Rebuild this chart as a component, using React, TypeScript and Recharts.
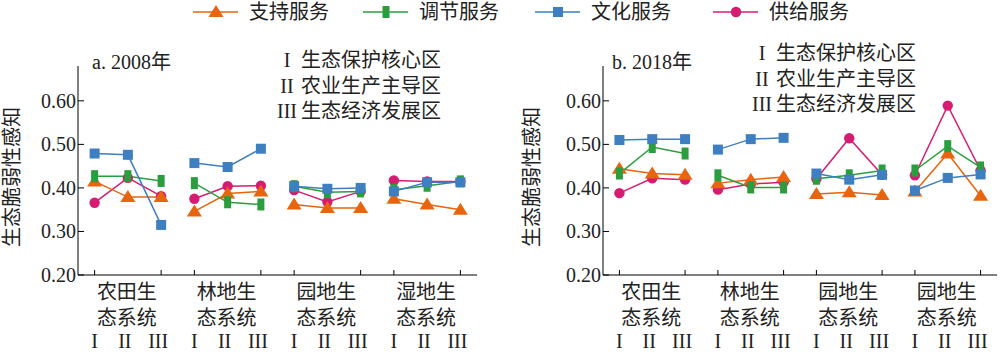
import React from "react"
import { LineChart, Line, XAxis, YAxis } from "recharts"

const FONT = "'Liberation Serif', 'Noto Sans CJK SC', serif"

// position 1..12: I, II, III of each ecosystem group
const positions = [1, 2, 3, 4, 5, 6, 7, 8, 9, 10, 11, 12]
const romans = ["I", "II", "III"]
const yTicks = [0.2, 0.3, 0.4, 0.5, 0.6]

const groups2008 = ["农田生态系统", "林地生态系统", "园地生态系统", "湿地生态系统"]
const groups2018 = ["农田生态系统", "林地生态系统", "园地生态系统", "园地生态系统"]

const regionNames = ["生态保护核心区", "农业生产主导区", "生态经济发展区"]

const support2008 = [0.415, 0.379, 0.379, 0.346, 0.387, 0.392, 0.362, 0.354, 0.354, 0.375, 0.362, 0.35]
const regulate2008 = [0.427, 0.427, 0.416, 0.411, 0.367, 0.362, 0.404, 0.39, 0.392, 0.396, 0.405, 0.415]
const culture2008 = [0.479, 0.476, 0.315, 0.457, 0.448, 0.49, 0.404, 0.398, 0.4, 0.392, 0.413, 0.413]
const supply2008 = [0.366, 0.423, 0.381, 0.375, 0.404, 0.405, 0.395, 0.368, 0.392, 0.417, 0.415, 0.415]

const support2018 = [0.444, 0.433, 0.43, 0.411, 0.419, 0.425, 0.386, 0.39, 0.384, 0.392, 0.479, 0.382]
const regulate2018 = [0.433, 0.494, 0.479, 0.429, 0.401, 0.401, 0.421, 0.429, 0.44, 0.44, 0.496, 0.447]
const culture2018 = [0.51, 0.512, 0.512, 0.488, 0.512, 0.515, 0.433, 0.419, 0.43, 0.394, 0.423, 0.431]
const supply2018 = [0.388, 0.422, 0.419, 0.396, 0.409, 0.413, 0.421, 0.514, 0.43, 0.429, 0.589, 0.44]

const series = [
  { key: "supply", name: "供给服务", color: "#D81B72", shape: "circle" },
  { key: "support", name: "支持服务", color: "#E8650F", shape: "triangle" },
  { key: "regulate", name: "调节服务", color: "#2A9E3E", shape: "rect" },
  { key: "culture", name: "文化服务", color: "#3D7FC1", shape: "square" },
]
const legendOrder = ["support", "regulate", "culture", "supply"]

// rows with a null row between groups so lines break
function buildRows(vals: Record<string, number[]>) {
  const rows: any[] = []
  positions.forEach((p, i) => {
    const row: any = { x: p }
    for (const k in vals) row[k] = vals[k][i]
    rows.push(row)
    if (i % 3 === 2 && i < positions.length - 1) {
      const gap: any = { x: p + 0.5 }
      for (const k in vals) gap[k] = null
      rows.push(gap)
    }
  })
  return rows
}

const data2008 = buildRows({ support: support2008, regulate: regulate2008, culture: culture2008, supply: supply2008 })
const data2018 = buildRows({ support: support2018, regulate: regulate2018, culture: culture2018, supply: supply2018 })

function Marker({ cx, cy, shape, color }: any) {
  if (cx == null || cy == null) return null
  if (shape === "triangle")
    return <polygon points={`${cx},${cy - 7} ${cx - 7.5},${cy + 5} ${cx + 7.5},${cy + 5}`} fill={color} />
  if (shape === "rect") return <rect x={cx - 3.5} y={cy - 6} width={7} height={12} fill={color} />
  if (shape === "square") return <rect x={cx - 5} y={cy - 5} width={10} height={10} fill={color} />
  return <circle cx={cx} cy={cy} r={5.2} fill={color} />
}

function XTick({ x, y, payload, groups }: any) {
  const idx = payload.value - 1
  const g = Math.floor(idx / 3)
  const k = idx % 3
  const label = groups[g]
  return (
    <g fontFamily={FONT} fontSize={20} fill="#222">
      {k !== 1 && <line x1={x} x2={x} y1={y} y2={y - 5} stroke="#000" />}
      <text x={x + (k === 0 ? 0 : -3)} y={y + 66} textAnchor="middle" dominantBaseline="central" fill="#222">
        {romans[k]}
      </text>
      {k === 1 && (
        <>
          <text x={x - 1} y={y + 17} textAnchor="middle" dominantBaseline="central" fill="#222">
            {label.slice(0, 3)}
          </text>
          <text x={x - 1} y={y + 43} textAnchor="middle" dominantBaseline="central" fill="#222">
            {label.slice(3)}
          </text>
        </>
      )}
    </g>
  )
}

function YTick({ x, y, payload }: any) {
  return (
    <g>
      <line x1={x} x2={x + 6} y1={y} y2={y} stroke="#000" />
      <text x={x - 2} y={y} textAnchor="end" dominantBaseline="central" fontFamily={FONT} fontSize={20} fill="#222">
        {Number(payload.value).toFixed(2)}
      </text>
    </g>
  )
}

function Panel({ data, groups, title, axisX, right, titleX, yLabelX, regionX, regionY }: any) {
  return (
    <div style={{ position: "relative", width: 500, height: 355 }}>
      <LineChart width={500} height={355} data={data} margin={{ top: 66, right, bottom: 0, left: 0 }}>
        <XAxis
          type="number"
          dataKey="x"
          domain={[0.5, 12.5]}
          ticks={positions}
          height={80}
          tickLine={false}
          tickSize={0}
          tickMargin={0}
          axisLine={{ stroke: "#000" }}
          tick={<XTick groups={groups} />}
          interval={0}
        />
        <YAxis
          type="number"
          domain={[0.2, 0.68]}
          ticks={yTicks}
          width={axisX}
          tickLine={false}
          tickSize={0}
          tickMargin={0}
          axisLine={{ stroke: "#000" }}
          tick={<YTick />}
          interval={0}
          allowDataOverflow
        />
        {series.map((s) => (
          <Line
            key={s.key}
            dataKey={s.key}
            stroke={s.color}
            strokeWidth={1.5}
            type="linear"
            isAnimationActive={false}
            dot={(p: any) => <Marker key={`${s.key}-${p.index}`} cx={p.cx} cy={p.cy} shape={s.shape} color={s.color} />}
            activeDot={false}
          />
        ))}
      </LineChart>
      <svg width={500} height={355} style={{ position: "absolute", left: 0, top: 0, pointerEvents: "none" }}>
        <g fontFamily={FONT} fontSize={20} fill="#222">
          <text x={titleX} y={62} dominantBaseline="central">
            {title}
          </text>
          <text
            x={yLabelX}
            y={177}
            textAnchor="middle"
            dominantBaseline="central"
            transform={`rotate(-90 ${yLabelX} 177)`}
          >
            生态脆弱性感知
          </text>
          {regionNames.map((r, i) => (
            <g key={r}>
              <text x={regionX} y={regionY + i * 25.5} textAnchor="middle" dominantBaseline="central">
                {romans[i]}
              </text>
              <text x={regionX + 14} y={regionY + i * 25.5} dominantBaseline="central">
                {r}
              </text>
            </g>
          ))}
        </g>
      </svg>
    </div>
  )
}

function TopLegend() {
  const starts = [193, 363, 535, 713]
  return (
    <svg width={1000} height={30} style={{ position: "absolute", left: 0, top: 0 }}>
      {legendOrder.map((k, i) => {
        const s = series.find((d) => d.key === k)!
        const x0 = starts[i]
        return (
          <g key={k}>
            <line x1={x0} x2={x0 + 45} y1={12} y2={12} stroke={s.color} strokeWidth={1.5} />
            <Marker cx={x0 + 23} cy={12} shape={s.shape} color={s.color} />
            <text x={x0 + 56} y={12} dominantBaseline="central" fontFamily={FONT} fontSize={20} fill="#222">
              {s.name}
            </text>
          </g>
        )
      })}
    </svg>
  )
}

export default function App() {
  return (
    <div style={{ position: "absolute", left: 0, top: 0, width: 1000, height: 355, background: "#fff" }}>
      <div style={{ position: "absolute", left: 0, top: 0 }}>
        <Panel
          data={data2008}
          groups={groups2008}
          title="a. 2008年"
          axisX={78}
          right={23}
          titleX={92}
          yLabelX={12}
          regionX={287}
          regionY={60}
        />
      </div>
      <div style={{ position: "absolute", left: 500, top: 0 }}>
        <Panel
          data={data2018}
          groups={groups2018}
          title="b. 2018年"
          axisX={103}
          right={3}
          titleX={112}
          yLabelX={32}
          regionX={262}
          regionY={53}
        />
      </div>
      <TopLegend />
    </div>
  )
}
